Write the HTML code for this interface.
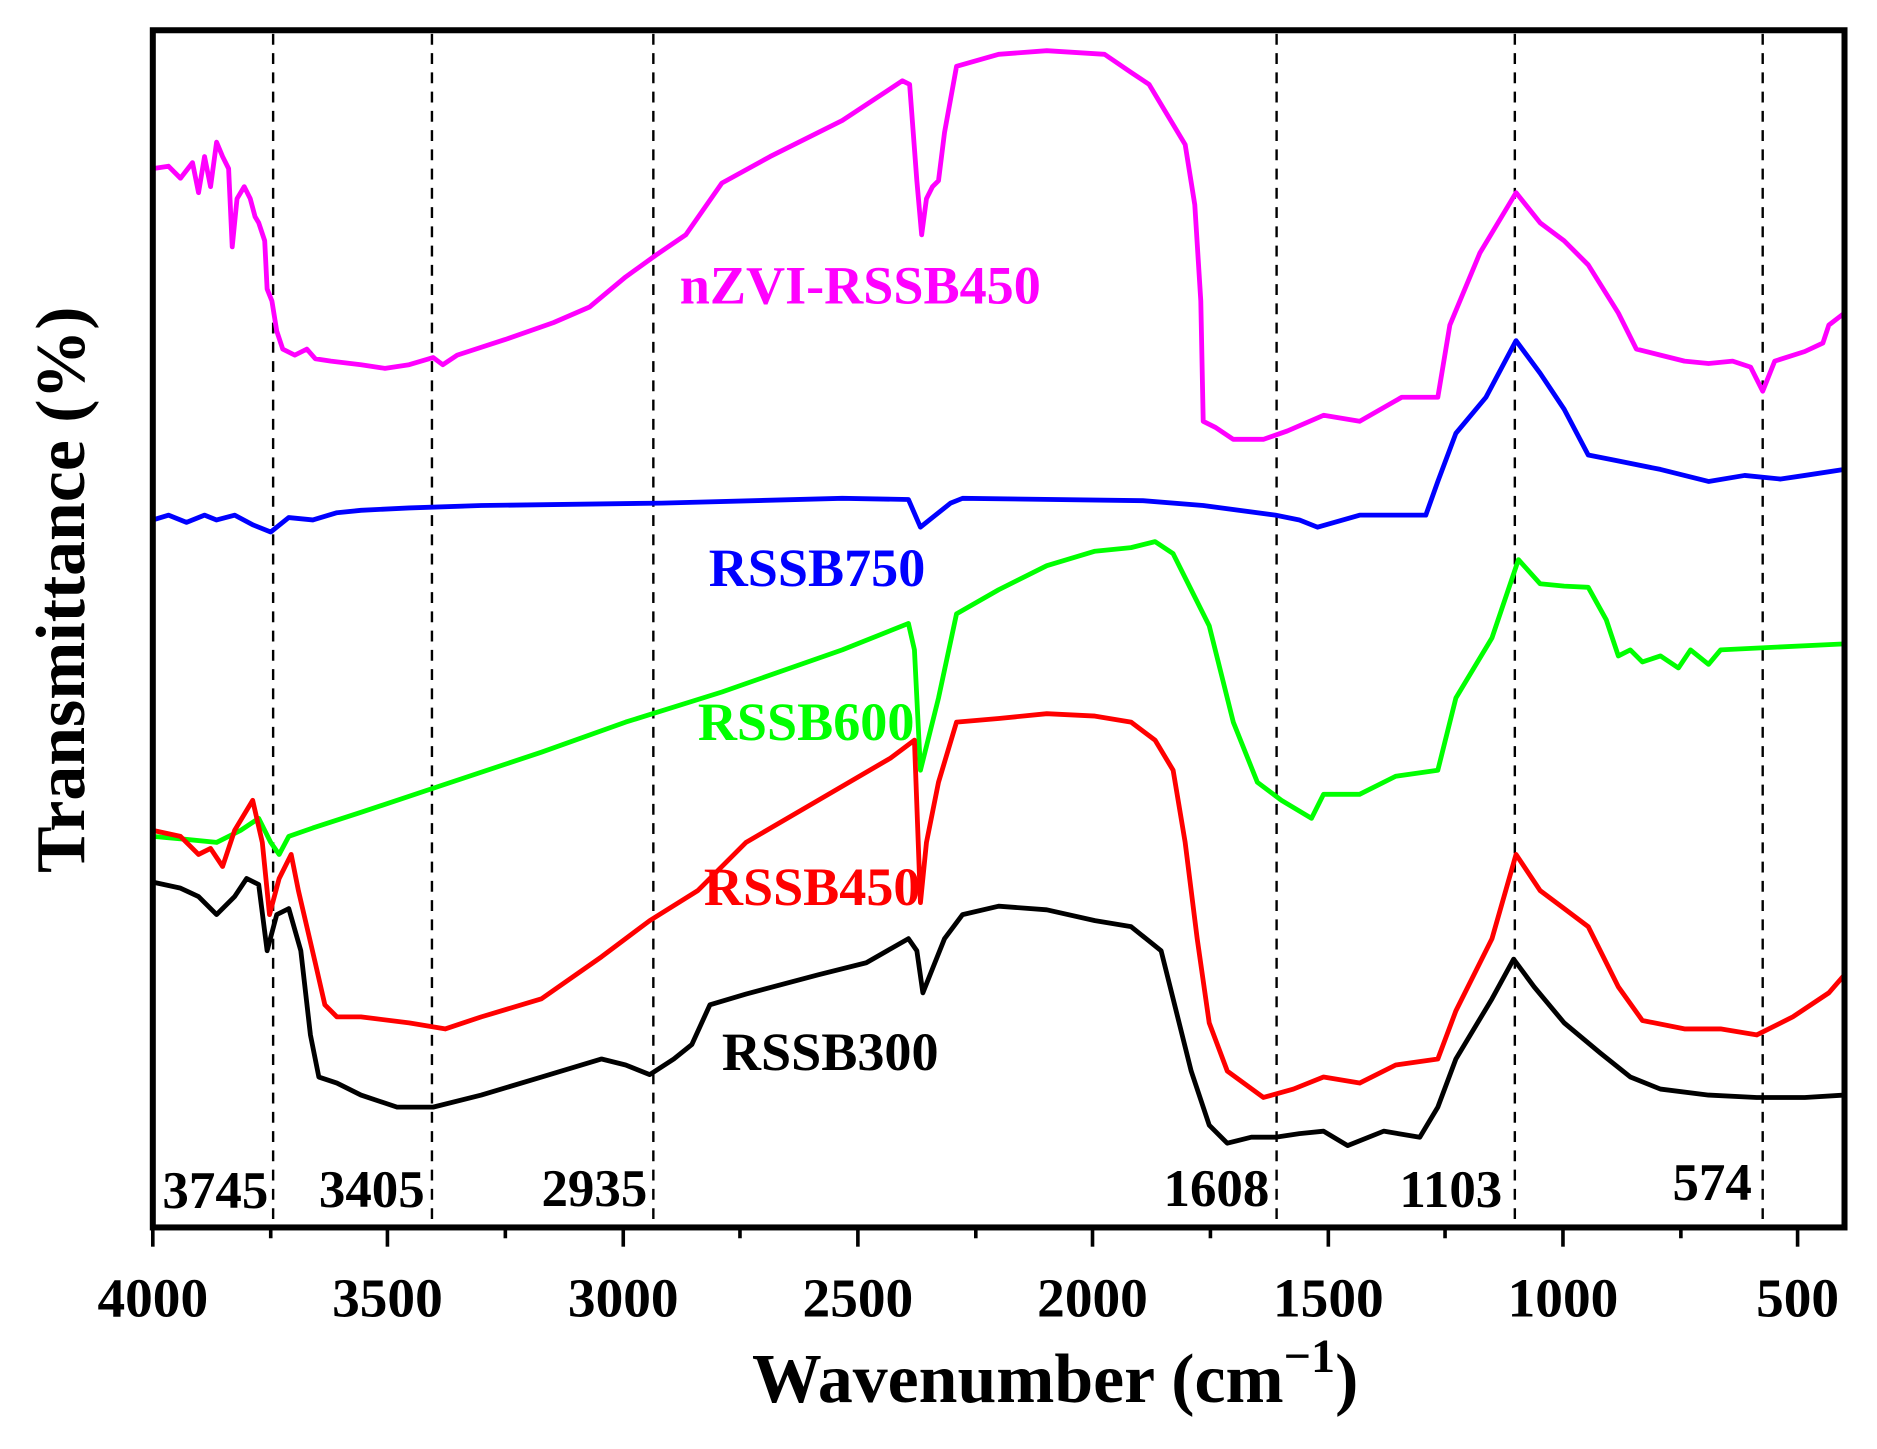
<!DOCTYPE html>
<html><head><meta charset="utf-8"><style>html,body{margin:0;padding:0;background:#fff}svg{display:block}</style></head>
<body>
<svg width="1877" height="1449" viewBox="0 0 1560 1204" xmlns="http://www.w3.org/2000/svg" font-family="'Liberation Serif',serif" font-weight="bold">
<rect width="1560" height="1204" fill="#fff"/>
<g stroke="#000" stroke-width="2" stroke-dasharray="9,7">
<line x1="227" y1="28" x2="227" y2="1017"/><line x1="359" y1="28" x2="359" y2="1017"/><line x1="543" y1="28" x2="543" y2="1017"/>
<line x1="1061" y1="28" x2="1061" y2="1017"/><line x1="1259" y1="28" x2="1259" y2="1017"/><line x1="1465" y1="28" x2="1465" y2="1017"/>
</g>
<g fill="none" stroke-width="4" stroke-linejoin="round">
<polyline stroke="#ff00ff" points="127,140 140,138 150,148 160,135 165,160 170,130 175,155 180,118 185,130 190,140 193,205 197,165 203,155 208,165 212,180 215,185 220,200 222,240 226,250 230,275 235,290 245,295 255,290 262,298 275,300 300,303 320,306 340,303 360,297 368,303 380,295 420,282 460,268 490,255 520,230 545,212 570,195 600,152 640,130 700,100 750,67 756,70 762,150 766,195 770,165 775,155 780,150 785,110 795,55 830,45 870,42 918,45 940,60 955,70 970,95 985,120 993,170 998,250 1000,350 1010,355 1025,365 1050,365 1070,358 1100,345 1130,350 1165,330 1195,330 1205,270 1230,210 1260,160 1280,185 1300,200 1320,220 1345,260 1360,290 1380,295 1400,300 1420,302 1440,300 1455,305 1465,325 1475,300 1500,292 1515,285 1520,270 1533,260"/>
<polyline stroke="#0000ff" points="127,432 140,428 155,434 170,428 180,432 195,428 210,436 225,442 240,430 260,432 280,426 300,424 340,422 400,420 550,418 700,414 755,415 765,438 775,430 790,418 800,414 950,416 1000,420 1060,428 1080,432 1095,438 1130,428 1185,428 1195,400 1210,360 1235,330 1260,283 1280,310 1300,340 1320,378 1340,382 1380,390 1420,400 1450,395 1480,398 1500,395 1533,390"/>
<polyline stroke="#00ff00" points="127,695 150,697 180,700 200,690 215,680 225,700 232,710 240,695 260,688 300,675 360,655 450,625 520,600 600,575 700,540 755,518 760,540 765,640 770,620 780,580 795,510 830,490 870,470 910,458 940,455 960,450 975,460 990,490 1005,520 1015,560 1025,600 1045,650 1065,665 1090,680 1100,660 1130,660 1160,645 1195,640 1210,580 1240,530 1262,465 1280,485 1300,487 1320,488 1335,515 1345,545 1355,540 1365,550 1380,545 1395,555 1405,540 1420,552 1430,540 1470,538 1533,535"/>
<polyline stroke="#ff0000" points="127,690 150,695 165,710 175,705 185,720 195,690 210,665 218,700 224,760 232,730 242,710 248,740 255,770 262,800 270,835 280,845 300,845 340,850 370,855 400,845 450,830 500,795 540,765 580,740 620,700 680,665 740,630 760,615 765,750 770,700 780,650 795,600 830,597 870,593 910,595 940,600 960,615 975,640 985,700 995,780 1005,850 1020,890 1050,912 1075,905 1100,895 1130,900 1160,885 1195,880 1210,840 1240,780 1260,710 1280,740 1300,755 1320,770 1345,820 1365,848 1400,855 1430,855 1460,860 1490,845 1520,825 1533,810"/>
<polyline stroke="#000000" points="127,733 150,738 165,745 180,760 195,745 205,730 215,735 222,790 230,760 240,755 250,790 258,860 265,895 280,900 300,910 330,920 360,920 400,910 450,895 500,880 520,885 540,893 560,880 575,868 590,835 620,826 680,810 720,800 755,780 762,790 767,825 775,805 785,780 800,760 830,753 870,756 910,765 940,770 965,790 975,830 990,890 1005,935 1020,950 1040,945 1060,945 1080,942 1100,940 1120,952 1150,940 1180,945 1195,920 1210,880 1240,830 1258,797 1275,820 1300,850 1330,875 1355,895 1380,905 1420,910 1460,912 1500,912 1533,910"/>
</g>
<rect x="127" y="25" width="1406" height="995" fill="none" stroke="#000" stroke-width="5"/>
<g stroke="#000" stroke-width="3">
<line x1="127" y1="1020" x2="127" y2="1036"/><line x1="322" y1="1020" x2="322" y2="1036"/><line x1="518" y1="1020" x2="518" y2="1036"/><line x1="713" y1="1020" x2="713" y2="1036"/><line x1="908" y1="1020" x2="908" y2="1036"/><line x1="1104" y1="1020" x2="1104" y2="1036"/><line x1="1299" y1="1020" x2="1299" y2="1036"/><line x1="1494" y1="1020" x2="1494" y2="1036"/>
<line x1="225" y1="1020" x2="225" y2="1029"/><line x1="420" y1="1020" x2="420" y2="1029"/><line x1="615" y1="1020" x2="615" y2="1029"/><line x1="811" y1="1020" x2="811" y2="1029"/><line x1="1006" y1="1020" x2="1006" y2="1029"/><line x1="1201" y1="1020" x2="1201" y2="1029"/><line x1="1397" y1="1020" x2="1397" y2="1029"/>
</g>
<g font-size="46" text-anchor="middle">
<text x="127" y="1094">4000</text><text x="322" y="1094">3500</text><text x="518" y="1094">3000</text><text x="713" y="1094">2500</text><text x="908" y="1094">2000</text><text x="1104" y="1094">1500</text><text x="1299" y="1094">1000</text><text x="1494" y="1094">500</text>
</g>
<g font-size="44">
<text x="135" y="1004">3745</text><text x="265" y="1003">3405</text><text x="450" y="1002">2935</text>
<text x="967" y="1002">1608</text><text x="1163" y="1003">1103</text><text x="1390" y="997">574</text>
</g>
<g font-size="45">
<text x="565" y="252" fill="#ff00ff">nZVI-RSSB450</text>
<text x="589" y="487" fill="#0000ff">RSSB750</text>
<text x="580" y="615" fill="#00ff00">RSSB600</text>
<text x="585" y="752" fill="#ff0000">RSSB450</text>
<text x="600" y="889" fill="#000">RSSB300</text>
</g>
<text x="625" y="1165" font-size="58">Wavenumber (cm<tspan font-size="40" dy="-25">−1</tspan><tspan dy="25">)</tspan></text>
<text transform="translate(70,490) rotate(-90)" font-size="58" text-anchor="middle">Transmittance (%)</text>
</svg>
</body></html>
